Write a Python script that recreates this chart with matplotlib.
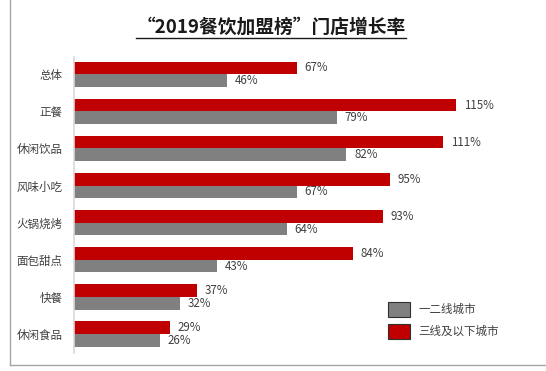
import matplotlib
matplotlib.use("Agg")
import matplotlib.pyplot as plt
import numpy as np
from matplotlib.lines import Line2D

plt.rcParams["font.family"] = ["Noto Sans CJK SC", "DejaVu Sans"]

categories = ["总体", "正餐", "休闲饮品", "风味小吃", "火锅烧烤", "面包甜点", "快餐", "休闲食品"]
tier12 = [46, 79, 82, 67, 64, 43, 32, 26]
tier3 = [67, 115, 111, 95, 93, 84, 37, 29]
series_names = ["一二线城市", "三线及以下城市"]
title = "“2019餐饮加盟榜”门店增长率"

RED = "#C00000"
GRAY = "#808080"
TXT = "#404040"

fig = plt.figure(figsize=(5.46, 3.71), dpi=100, facecolor="white")
ax = fig.add_axes([0.135, 0.0485, 0.853, 0.7975])

y = np.arange(len(categories))
h = 0.34
b_red = ax.barh(y - h / 2, tier3, height=h, color=RED, label=series_names[1])
b_gray = ax.barh(y + h / 2, tier12, height=h, color=GRAY, label=series_names[0])

for bars in (b_red, b_gray):
    ax.bar_label(bars, labels=[f"{v}%" for v in bars.datavalues],
                 padding=5.5, fontsize=8.3, color=TXT)

ax.set_xlim(0, 140)
ax.set_ylim(len(categories) - 0.49, -0.46)
ax.set_yticks(y)
ax.set_yticklabels(categories, fontsize=8.3, color=TXT)
ax.tick_params(axis="y", length=0, pad=8)
ax.set_xticks([])
for s in ("top", "right", "bottom"):
    ax.spines[s].set_visible(False)
ax.spines["left"].set_color("#D9D9D9")
ax.spines["left"].set_linewidth(1.2)

handles = [
    plt.Rectangle((0, 0), 1, 1, facecolor=GRAY, edgecolor="#303030", lw=0.8),
    plt.Rectangle((0, 0), 1, 1, facecolor=RED, edgecolor="#303030", lw=0.8),
]
fig.legend(handles, series_names, loc="upper left",
           bbox_to_anchor=(379 / 546, 1 - 293 / 371), frameon=False,
           fontsize=8.3, handlelength=1.9, handleheight=1.55,
           labelspacing=0.65, handletextpad=0.7, borderpad=0.3,
           labelcolor=TXT)

t = fig.text(271 / 546, 1 - 27 / 371, title, ha="center", va="center",
             fontsize=13.5, fontweight="bold", color="#1a1a1a")
fig.canvas.draw()
bb = t.get_window_extent().transformed(fig.transFigure.inverted())
fig.add_artist(Line2D([bb.x0, bb.x1], [1 - 37.5 / 371] * 2,
                      transform=fig.transFigure, color="#1a1a1a", lw=1.0))

# outer frame (left and bottom edges)
fig.add_artist(Line2D([10 / 546, 10 / 546], [1, 1 - 365 / 371],
                      transform=fig.transFigure, color="#A6A6A6", lw=1.0))
fig.add_artist(Line2D([10 / 546, 1], [1 - 365 / 371] * 2,
                      transform=fig.transFigure, color="#A6A6A6", lw=1.0))

fig.savefig("out.png", dpi=100, facecolor="white")
